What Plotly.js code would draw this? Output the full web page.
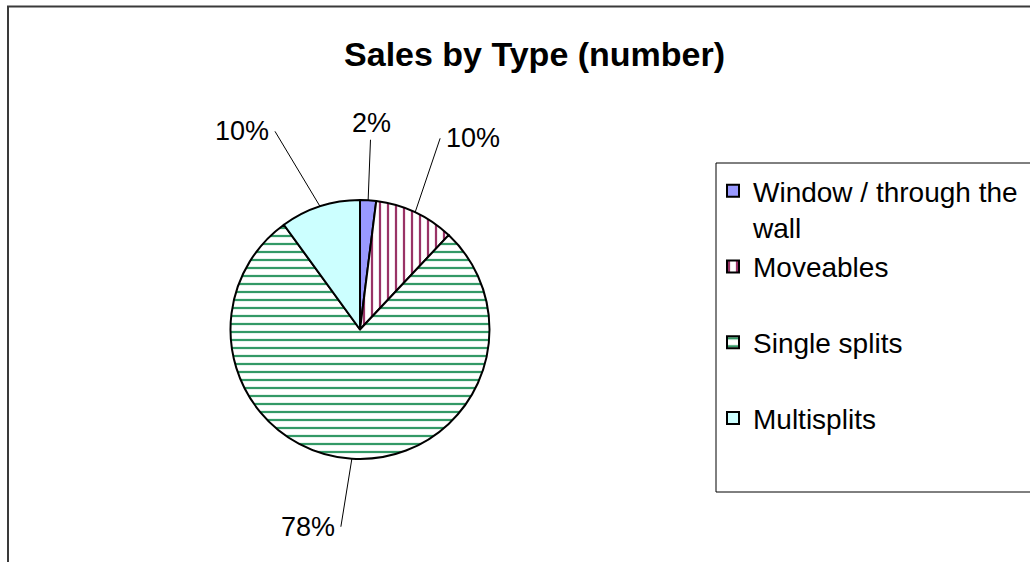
<!DOCTYPE html>
<html>
<head>
<meta charset="utf-8">
<script src="https://cdn.plot.ly/plotly-3.0.1.min.js"></script>
<style>
  html, body { margin: 0; padding: 0; background: #fff; }
  #chart { width: 1030px; height: 562px; }
</style>
</head>
<body>
<div id="chart"></div>
<script>
// ---- data ----
var categories = ['Window / through the wall', 'Moveables', 'Single splits', 'Multisplits'];
var salesShare = [2, 10, 78, 10];
var chartTitle = 'Sales by Type (number)';

// ---- style / layout constants ----
var W = 1030, H = 562;
var FONT = 'Liberation Sans, Arial, Helvetica, sans-serif';
var pieCenter = {x: 360, y: 329.5};   // px
var pieRadius = 129.5;                 // px
var fillColors = ['#9999FF', '#FFFFFF', '#FFFFFF', '#CCFFFF'];
var patternShapes = ['', '|', '-', ''];
var patternFg = ['#9999FF', '#993366', '#339966', '#CCFFFF'];
// leader-line tail offsets (px) from each slice's outer edge midpoint (slice order)
var labelOffsets = [[3, -77], [25, -74], [-11, 68], [-45, -75]];
var labelAnchors = ['auto', 'left', 'right', 'right'];

function wrap(s, n) {
  if (s.length <= n) return s + '<br>&nbsp;';
  var i = s.lastIndexOf(' ', n);
  return s.slice(0, i) + '<br>' + s.slice(i + 1);
}
var legendLabels = categories.map(function (c) { return wrap(c, 21); });

var total = salesShare.reduce(function (a, b) { return a + b; }, 0);

var trace = {
  type: 'pie',
  values: salesShare,
  labels: legendLabels,
  sort: false,
  direction: 'clockwise',
  rotation: 0,
  textinfo: 'none',
  hoverinfo: 'none',
  domain: {
    x: [(pieCenter.x - pieRadius) / W, (pieCenter.x + pieRadius) / W],
    y: [(H - pieCenter.y - pieRadius) / H, (H - pieCenter.y + pieRadius) / H]
  },
  marker: {
    colors: fillColors,
    line: {color: '#000000', width: 2},
    pattern: {
      shape: patternShapes,
      fgcolor: patternFg,
      bgcolor: '#FFFFFF',
      size: 8,
      solidity: 0.28
    }
  }
};

// percentage labels with leader lines, anchored to each slice's outer edge
var annotations = [];
var cum = 0;
salesShare.forEach(function (v, i) {
  var mid = (cum + v / 2) / total;
  cum += v;
  var th = mid * 2 * Math.PI;
  var px = pieCenter.x + pieRadius * Math.sin(th);
  var py = pieCenter.y - pieRadius * Math.cos(th);
  annotations.push({
    xref: 'paper', yref: 'paper',
    x: px / W, y: 1 - py / H,
    ax: labelOffsets[i][0], ay: labelOffsets[i][1],
    xanchor: labelAnchors[i], yanchor: 'middle',
    borderpad: labelAnchors[i] === 'auto' ? 1 : 5,
    text: Math.round(v / total * 100) + '%',
    showarrow: true, arrowhead: 0, arrowwidth: 1, arrowcolor: '#000',
    standoff: 0, startstandoff: 0,
    font: {family: FONT, size: 27, color: '#000'}
  });
});

var layout = {
  width: W, height: H,
  margin: {l: 0, r: 0, t: 0, b: 0, autoexpand: false},
  paper_bgcolor: '#FFFFFF',
  title: {
    text: chartTitle,
    font: {family: FONT, size: 34, color: '#000', weight: 'bold'},
    x: 0.519, xanchor: 'center', xref: 'paper',
    y: 1 - 54 / H, yanchor: 'middle', yref: 'container'
  },
  showlegend: true,
  legend: {
    x: 713 / W, xanchor: 'left',
    y: 1 - 166 / H, yanchor: 'top',
    bgcolor: 'rgba(0,0,0,0)', borderwidth: 0,
    valign: 'top',
    traceorder: 'normal',
    font: {family: FONT, size: 28, color: '#000'}
  },
  annotations: annotations,
  shapes: [
    // outer chart frame
    {type: 'rect', xref: 'paper', yref: 'paper', layer: 'below',
     x0: 8 / W, x1: 1.2, y0: -0.2, y1: 1 - 6.5 / H,
     line: {color: '#3a3a3a', width: 2}, fillcolor: 'rgba(0,0,0,0)'},
    // legend box
    {type: 'rect', xref: 'paper', yref: 'paper', layer: 'below',
     x0: 716 / W, x1: 1.2, y0: 1 - 492 / H, y1: 1 - 163 / H,
     line: {color: '#000', width: 1}, fillcolor: 'rgba(0,0,0,0)'}
  ]
};

Plotly.newPlot('chart', [trace], layout, {displayModeBar: false, responsive: false});
</script>
</body>
</html>
